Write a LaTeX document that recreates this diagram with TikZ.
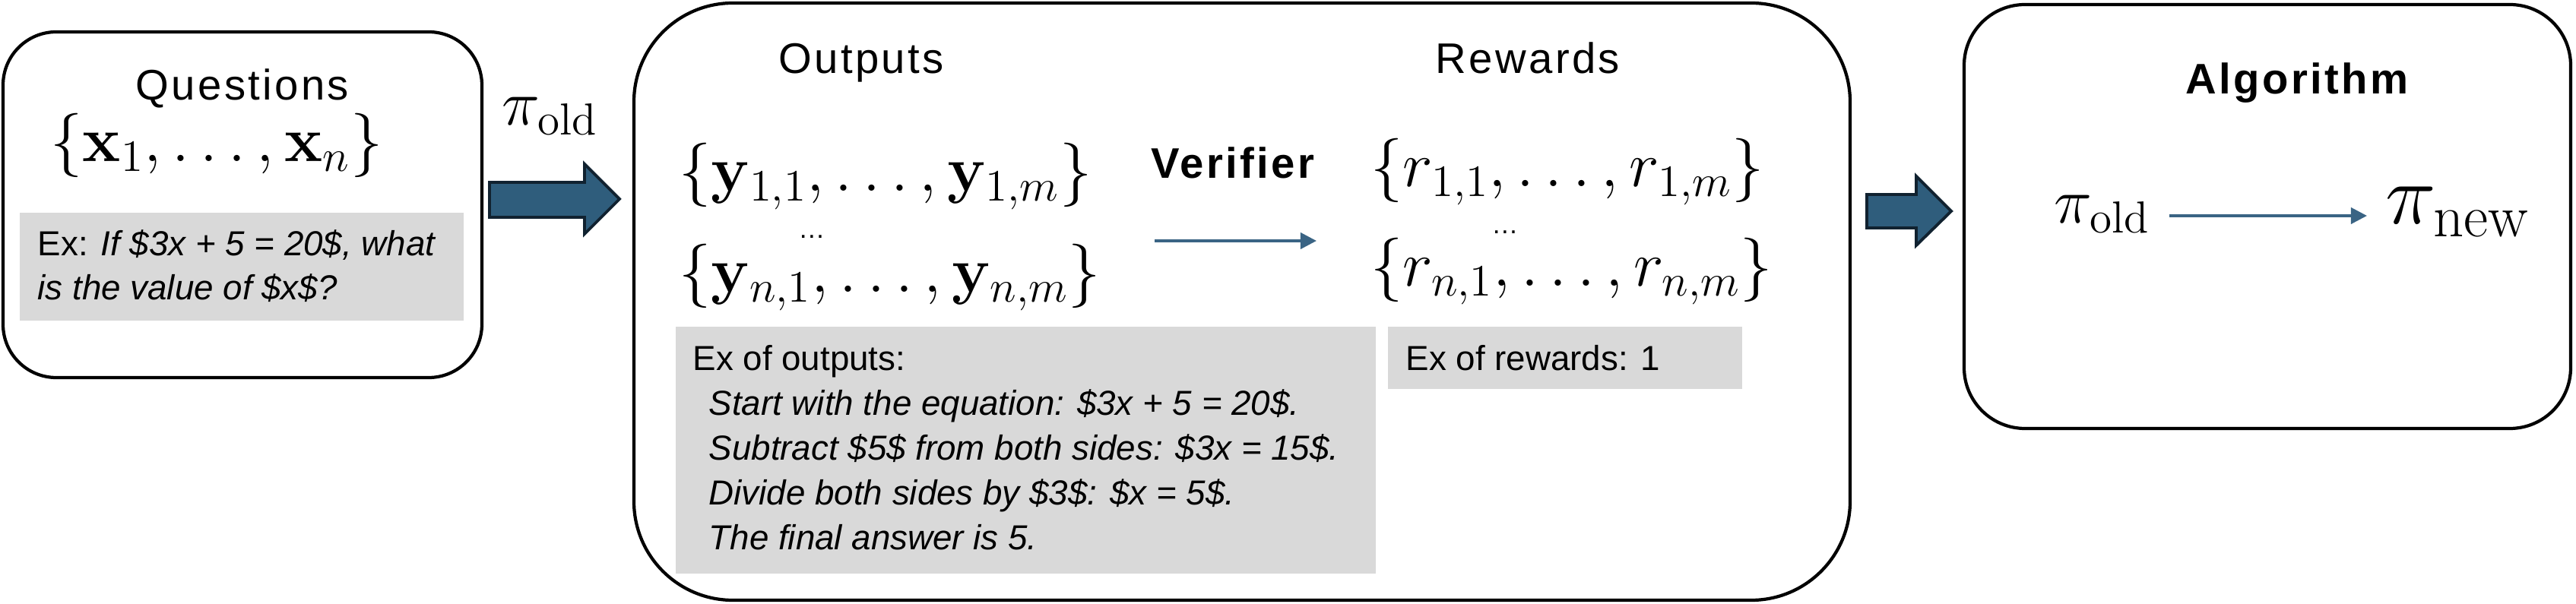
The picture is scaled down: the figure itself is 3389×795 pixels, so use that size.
\RequirePackage{fix-cm}
\documentclass[tikz,border=0pt]{standalone}
\usepackage[no-math]{fontspec}
\setsansfont{Liberation Sans}
\usetikzlibrary{arrows.meta}
\definecolor{arrowfill}{RGB}{47,93,124}
\definecolor{arrowedge}{RGB}{17,34,48}
\definecolor{thinarrow}{RGB}{58,100,132}
\definecolor{exgray}{RGB}{217,217,217}
\tikzset{
  panel/.style={draw=black, line width=1.2pt},
  titletext/.style={inner sep=0pt, anchor=base, font=\sffamily\fontsize{16}{19}\selectfont\addfontfeature{LetterSpace=6}},
  boldtitle/.style={titletext, font=\sffamily\bfseries\fontsize{16}{19}\selectfont\addfontfeature{LetterSpace=6}},
  mathtext/.style={inner sep=0pt, anchor=base west, font=\fontsize{24}{28}\selectfont},
  bigmath/.style={inner sep=0pt, anchor=base west, font=\fontsize{32}{36}\selectfont},
  extext/.style={inner sep=0pt, anchor=base west, font=\sffamily\fontsize{13}{16}\selectfont},
  exital/.style={extext, font=\sffamily\itshape\fontsize{13}{16}\selectfont},
  vdots/.style={inner sep=0pt, anchor=base, font=\sffamily\fontsize{10}{12}\selectfont},
  exbox/.style={fill=exgray},
  blockarrow/.style={fill=arrowfill, draw=arrowedge, line width=1.1pt, line join=miter},
  thinconn/.style={draw=thinarrow, line width=1.1pt, -{Triangle[length=6pt,width=6pt]}}
}
\begin{document}
\begin{tikzpicture}[x=0.01cm, y=-0.01cm]
\useasboundingbox (0,0) rectangle (3389,795);

% ---------- Panel 1: Questions ----------
\draw[panel, rounded corners=0.7cm] (4,42) rectangle (634,497);
\node[titletext] (qtitle) at (319,132) {Questions};
\node[mathtext] (qset) at (66,213) {$\{\mathbf{x}_1,\ldots,\mathbf{x}_n\}$};
\fill[exbox] (26,280) rectangle (610,422);
\node[extext] (qex1) at (49,337) {Ex: \textit{If \$3x + 5 = 20\$, what}};
\node[exital] (qex2) at (49,395) {is the value of \$x\$?};

% ---------- pi_old label and block arrow 1 ----------
\node[mathtext] (pilabel) at (660,165) {$\pi_{\mathrm{old}}$};
\draw[blockarrow] (644,240) -- (769,240) -- (769,216) -- (815,262) -- (769,308) -- (769,286) -- (644,286) -- cycle;

% ---------- Panel 2: Outputs / Rewards ----------
\draw[panel, rounded corners=1.3cm] (834,4) rectangle (2434,790);
\node[titletext] (otitle) at (1133,97) {Outputs};
\node[titletext] (rtitle) at (2010,97) {Rewards};
\node[mathtext] (yrow1) at (893,252) {$\{\mathbf{y}_{1,1},\ldots,\mathbf{y}_{1,m}\}$};
\node[vdots] (ydots) at (1068,314) {…};
\node[mathtext] (yrow2) at (893,385) {$\{\mathbf{y}_{n,1},\ldots,\mathbf{y}_{n,m}\}$};
\node[inner sep=0pt, anchor=base west, font=\sffamily\bfseries\fontsize{16}{19}\selectfont\addfontfeature{LetterSpace=6}] (verifier) at (1514,235) {Verifier};
\coordinate (va) at (1519,317);
\coordinate (vb) at (1732,317);
\draw[thinconn] (va) -- (vb);
\node[mathtext] (rrow1) at (1803,246) {$\{r_{1,1},\ldots,r_{1,m}\}$};
\node[vdots] (rdots) at (1980,308) {…};
\node[mathtext] (rrow2) at (1803,377) {$\{r_{n,1},\ldots,r_{n,m}\}$};

\fill[exbox] (889,430) rectangle (1810,755);
\node[extext] (oex0) at (911,488) {Ex of outputs:};
\node[exital] (oex1) at (932,547) {Start with the equation: \$3x + 5 = 20\$.};
\node[exital] (oex2) at (932,606) {Subtract \$5\$ from both sides: \$3x = 15\$.};
\node[exital] (oex3) at (932,665) {Divide both sides by \$3\$: \$x = 5\$.};
\node[exital] (oex4) at (932,724) {The final answer is 5.};

\fill[exbox] (1826,430) rectangle (2292,512);
\node[extext] (rex) at (1849,488) {Ex of rewards: 1};

% ---------- block arrow 2 ----------
\draw[blockarrow] (2456,256) -- (2521,256) -- (2521,232) -- (2567,278) -- (2521,323) -- (2521,300) -- (2456,300) -- cycle;

% ---------- Panel 3: Algorithm ----------
\draw[panel, rounded corners=0.8cm] (2584,6) rectangle (3382,564);
\node[boldtitle] (atitle) at (3022,124) {Algorithm};
\node[mathtext] (piold) at (2702,294) {$\pi_{\mathrm{old}}$};
\node[bigmath] (pinew) at (3138,295) {$\pi_{\mathrm{new}}$};
\coordinate (aa) at (2854,284);
\coordinate (ab) at (3114,284);
\draw[thinconn] (aa) -- (ab);
\end{tikzpicture}
\end{document}
